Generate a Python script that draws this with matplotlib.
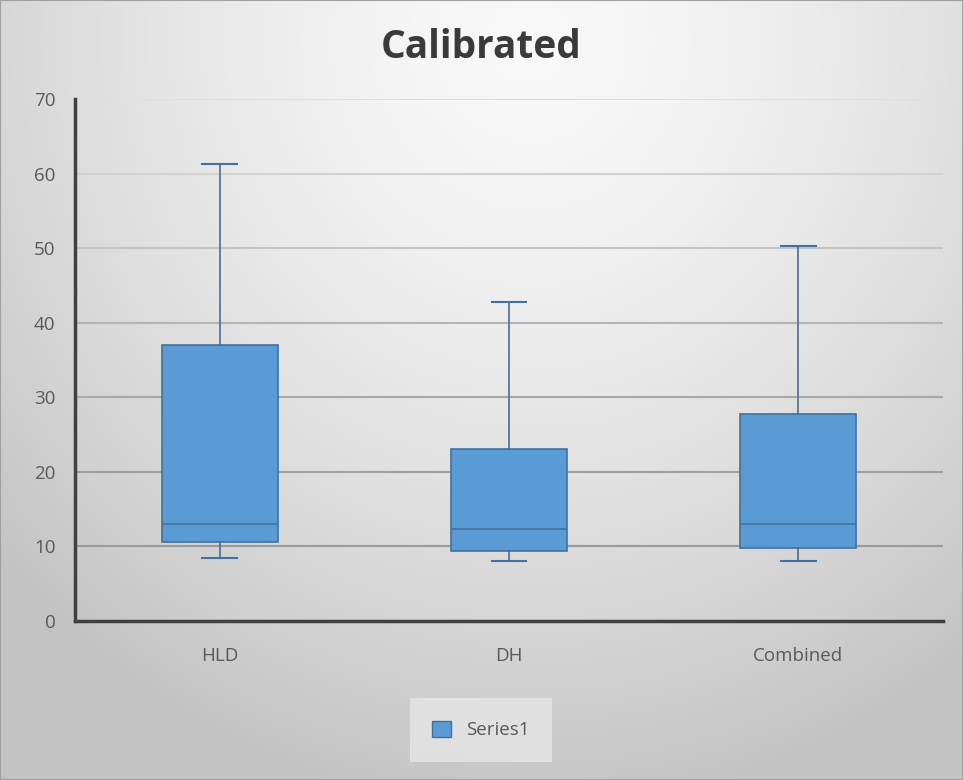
import numpy as np
import matplotlib
matplotlib.use("Agg")
import matplotlib.pyplot as plt
from matplotlib.patches import Patch

categories = ["HLD", "DH", "Combined"]
whisker_low = [8.4, 8.0, 8.0]
q1 = [10.6, 9.4, 9.8]
median = [13.0, 12.3, 13.0]
q3 = [37.0, 23.1, 27.8]
whisker_high = [61.3, 42.8, 50.3]

plt.rcParams['font.family'] = ['Open Sans', 'DejaVu Sans']

W, H = 963, 780
fig = plt.figure(figsize=(W / 100, H / 100), dpi=100)

# grey gradient background, light near the top centre, darker at the edges
bg = fig.add_axes([0, 0, 1, 1], zorder=-10)
yy, xx = np.mgrid[0:H, 0:W]
r = np.sqrt(((xx - W * 0.55) / (W * 0.75)) ** 2 + ((yy - H * 0.05) / (H * 1.0)) ** 2)
r = np.clip(r, 0, 1)
shade = 0.975 - 0.21 * r ** 1.5
bg.imshow(np.dstack([shade] * 3), aspect='auto', extent=[0, 1, 0, 1])
bg.add_patch(plt.Rectangle((0, 0), 1, 1, fill=False, ec='#a0a0a0', lw=1.5,
                           transform=bg.transAxes))
bg.axis('off')

ax = fig.add_axes([75 / W, 1 - 621 / H, (943 - 75) / W, (621 - 99) / H])
ax.patch.set_alpha(0)

stats = []
for i, c in enumerate(categories):
    stats.append(dict(label=c, whislo=whisker_low[i], q1=q1[i], med=median[i],
                      q3=q3[i], whishi=whisker_high[i], fliers=[]))

edge = '#41719c'
ax.bxp(stats, positions=[1, 2, 3], widths=0.4, patch_artist=True,
       showfliers=False,
       boxprops=dict(facecolor='#5b9bd5', edgecolor=edge, linewidth=1.2),
       medianprops=dict(color=edge, linewidth=1.2),
       whiskerprops=dict(color=edge, linewidth=1.2),
       capprops=dict(color=edge, linewidth=1.5), capwidths=0.12)

ax.set_xlim(0.5, 3.5)
ax.set_ylim(0, 70)
yticks = list(range(0, 71, 10))
ax.set_yticks(yticks)
grid_colors = ['#9a9a9a', '#9a9a9a', '#a0a0a0', '#a8a8a8', '#b4b4b4', '#c4c4c4', '#d2d2d2', '#dedede']
for yv, gc in zip(yticks[1:], grid_colors[1:]):
    ax.axhline(yv, color=gc, linewidth=1.5, zorder=0.5)
for s in ['top', 'right']:
    ax.spines[s].set_visible(False)
ax.spines['left'].set_color('#404040')
ax.spines['left'].set_linewidth(2.5)
ax.spines['bottom'].set_color('#404040')
ax.spines['bottom'].set_linewidth(2.5)
ax.tick_params(axis='both', length=0, labelsize=13.5, colors='#595959', pad=14)
ax.tick_params(axis='x', pad=19)

fig.text(0.5, 1 - 47 / H, "Calibrated", ha='center', va='center',
         fontsize=28, fontweight='bold', color='#3a3a3a')

leg = fig.legend(handles=[Patch(facecolor='#5b9bd5', edgecolor=edge, label='Series1')],
                 loc='center', bbox_to_anchor=(481 / W, 1 - 730 / H),
                 fontsize=13.5, frameon=True, fancybox=False,
                 handlelength=1.0, handleheight=1.0, borderpad=1.2)
leg.get_frame().set_facecolor('#e6e6e6')
leg.get_frame().set_edgecolor('none')
for t in leg.get_texts():
    t.set_color('#595959')

fig.savefig("out.png", dpi=100)
